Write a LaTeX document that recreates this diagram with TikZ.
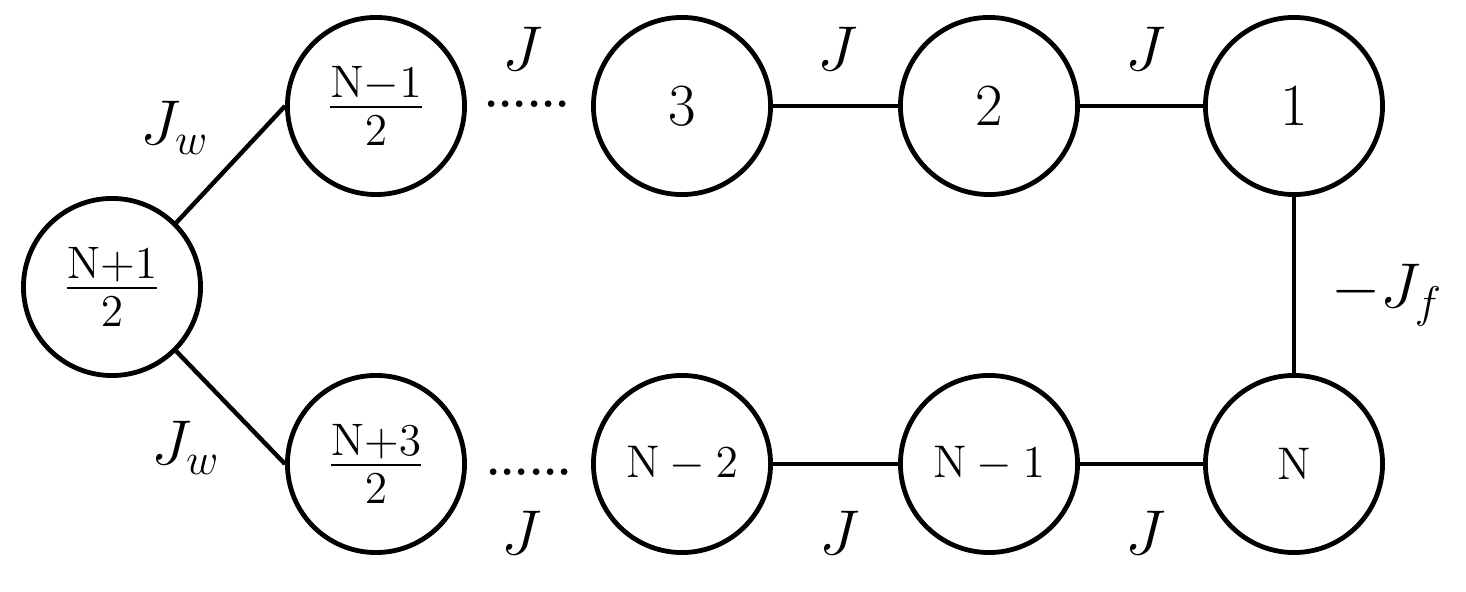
\RequirePackage{fix-cm}
\documentclass[tikz,border=0pt]{standalone}
\begin{document}
\begin{tikzpicture}[x=0.01cm,y=-0.01cm,
  site/.style={circle,draw,line width=0.048cm,minimum size=1.77cm,inner sep=0pt},
  bond/.style={line width=0.044cm},
  cpl/.style={inner sep=0pt,font=\fontsize{18}{20}\selectfont},
  topnum/.style={font=\fontsize{17}{20}\selectfont},
  botnum/.style={font=\fontsize{13}{15}\selectfont},
  fracnum/.style={font=\fontsize{18.5}{22}\selectfont},
  dotrow/.style={inner sep=0pt,font=\fontsize{13}{15}\selectfont\bfseries}]
\useasboundingbox (0,0) rectangle (1466,592);
% sites
\node[site,fracnum] (c)   at (112,287)  {$\frac{\mathrm{N+1}}{2}$};
\node[site,fracnum] (a)   at (376,106)  {$\frac{\mathrm{N-1}}{2}$};
\node[site,topnum]  (t3)  at (682,106)  {$3$};
\node[site,topnum]  (t2)  at (989,106)  {$2$};
\node[site,topnum]  (t1)  at (1294,106) {$1$};
\node[site,fracnum] (b)   at (376,464)  {$\frac{\mathrm{N+3}}{2}$};
\node[site,botnum]  (bN2) at (682,464)  {$\mathrm{N}-2$};
\node[site,botnum]  (bN1) at (989,464)  {$\mathrm{N}-1$};
\node[site,botnum]  (bN)  at (1294,464) {$\mathrm{N}$};
% bonds
\draw[bond] (c.north east) -- (a.west);
\draw[bond] (c.south east) -- (b.west);
\draw[bond] (t3) -- (t2);
\draw[bond] (t2) -- (t1);
\draw[bond] (bN2) -- (bN1);
\draw[bond] (bN1) -- (bN);
\draw[bond] (t1) -- (bN);
% dots
\node[dotrow] (dt) at (527,104) {......};
\node[dotrow] (db) at (529,472) {......};
% coupling labels
\node[cpl] (lw1) at (175,128) {$J_w$};
\node[cpl] (lw2) at (186,448) {$J_w$};
\node[cpl] (lj1) at (523,49) {$J$};
\node[cpl] (lj2) at (838,49) {$J$};
\node[cpl] (lj3) at (1146,49) {$J$};
\node[cpl] (lj4) at (522,533) {$J$};
\node[cpl] (lj5) at (840,533) {$J$};
\node[cpl] (lj6) at (1146,533) {$J$};
\node[cpl] (lf) at (1387,295) {$-J_f$};
\end{tikzpicture}
\end{document}
